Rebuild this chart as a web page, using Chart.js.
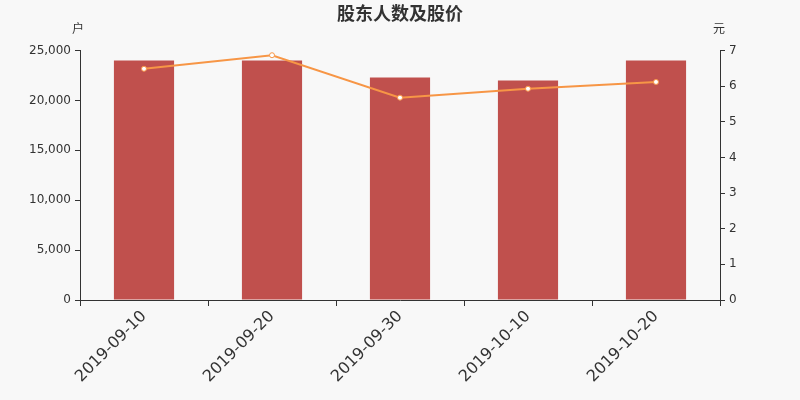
<!DOCTYPE html>
<html>
<head>
<meta charset="utf-8">
<script src="https://cdn.jsdelivr.net/npm/chart.js@4/dist/chart.umd.min.js"></script>
<style>
  html, body { margin: 0; padding: 0; background: #f8f8f8; }
  #box { width: 800px; height: 400px; }
</style>
</head>
<body>
<div id="box"><canvas id="holderChart"></canvas></div>
<script>
// data
var dates = ['2019-09-10', '2019-09-20', '2019-09-30', '2019-10-10', '2019-10-20'];
var holders = [24000, 24000, 22300, 22000, 24000];
var prices = [6.49, 6.87, 5.68, 5.93, 6.12];

var unitLabels = {
    id: 'unitLabels',
    afterDraw: function(chart){
        var ctx = chart.ctx;
        var area = chart.chartArea;
        ctx.save();
        ctx.fillStyle = '#333';
        ctx.font = '12px "Noto Sans CJK SC"';
        ctx.textBaseline = 'middle';
        ctx.textAlign = 'center';
        ctx.fillText('户', area.left - 2, 28);
        ctx.fillText('元', area.right - 1, 28);
        ctx.restore();
    }
};

function plotHolderChart(canvasID){
    var ctx = document.getElementById(canvasID).getContext('2d');
    var chart = new Chart(ctx, {
        data: {
            labels: dates,
            datasets: [{
                type: 'line',
                data: prices,
                yAxisID: 'yPrice',
                borderColor: '#f79646',
                borderWidth: 2,
                pointRadius: 2.5,
                pointBorderWidth: 1,
                pointBackgroundColor: '#ffffff',
                pointBorderColor: '#f79646',
                tension: 0,
                order: 0
            }, {
                type: 'bar',
                data: holders,
                yAxisID: 'yHolders',
                backgroundColor: '#c0504d',
                barPercentage: 0.47,
                categoryPercentage: 1,
                order: 1
            }]
        },
        options: {
            responsive: false,
            animation: false,
            layout: { padding: { top: 0, left: 0, right: 0, bottom: 0 } },
            plugins: {
                legend: { display: false },
                tooltip: { enabled: false },
                title: {
                    display: true,
                    text: '股东人数及股价',
                    color: '#333',
                    font: { size: 18, weight: 'bold', family: '"Noto Sans CJK SC"' },
                    padding: { top: 2, bottom: 27 }
                }
            },
            scales: {
                x: {
                    offset: true,
                    grid: { display: true, offset: true, drawOnChartArea: false, tickLength: 6, color: '#333' },
                    border: { color: '#333', width: 1 },
                    ticks: { color: '#333', font: { size: 16, family: '"DejaVu Sans"' }, minRotation: 45, maxRotation: 45, padding: 1 },
                    afterFit: function(s){ s.height = 100; }
                },
                yHolders: {
                    position: 'left',
                    min: 0, max: 25000,
                    grid: { drawOnChartArea: false, tickLength: 5, color: '#333' },
                    border: { color: '#333', width: 1 },
                    ticks: { stepSize: 5000, color: '#333', font: { size: 12, family: '"DejaVu Sans"' }, padding: 4 },
                    afterFit: function(s){ s.width = 80; }
                },
                yPrice: {
                    position: 'right',
                    min: 0, max: 7,
                    grid: { drawOnChartArea: false, tickLength: 5, color: '#333' },
                    border: { color: '#333', width: 1 },
                    ticks: { stepSize: 1, color: '#333', font: { size: 12, family: '"DejaVu Sans"' }, padding: 4 },
                    afterFit: function(s){ s.width = 80; }
                }
            }
        },
        plugins: [unitLabels]
    });
    return chart;
}

var c = document.getElementById('holderChart');
c.width = 800; c.height = 400;
plotHolderChart('holderChart');
</script>
</body>
</html>
